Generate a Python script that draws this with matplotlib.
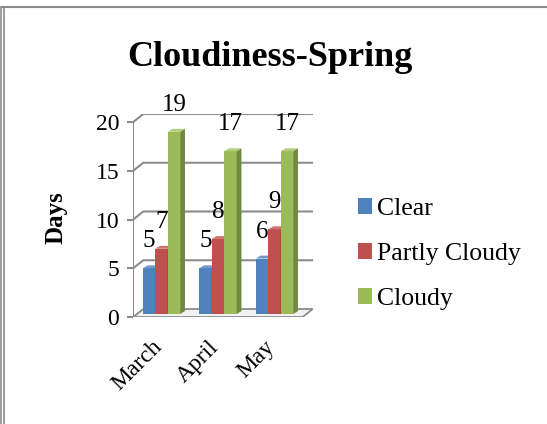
import matplotlib.pyplot as plt
from matplotlib.patches import Polygon, Patch
from matplotlib.lines import Line2D

plt.rcParams['font.family'] = ['Liberation Serif', 'DejaVu Serif']

months = ['March', 'April', 'May']
series = ['Clear', 'Partly Cloudy', 'Cloudy']
clear = [5, 5, 6]
partly = [7, 8, 9]
cloudy = [19, 17, 17]
values = [clear, partly, cloudy]
front_colors = ['#4F81BD', '#C0504D', '#9BBB59']
side_colors = ['#385d8a', '#8c3836', '#71893f']
top_colors = ['#7397c9', '#cf7472', '#b2cc7c']

W, H = 547, 424
fig = plt.figure(figsize=(W / 100, H / 100), dpi=100)

# pseudo-3D depth of the back wall, in data units
DX, DY = 0.177, 0.82
# depth of each bar
BDX, BDY = 0.085, 0.3

x0_px, y0_px = 133.25, 317
ux, uy = 56.5, 9.75
ax = fig.add_axes([x0_px / W, (H - y0_px) / H,
                   ux * (3 + DX) / W, uy * (20 + DY) / H])
ax.set_xlim(0, 3 + DX)
ax.set_ylim(0, 20 + DY)
for s in ax.spines.values():
    s.set_visible(False)

grid_c = '#8c8c8c'
# floor
ax.add_patch(Polygon([(0, 0), (3, 0), (3 + DX, DY), (DX, DY)], closed=True,
                     facecolor='#f2f2f2', edgecolor=grid_c, lw=1.3, zorder=1))
# back wall gridlines
for v in [5, 10, 15, 20]:
    ax.plot([0, DX, 3 + DX], [v, v + DY, v + DY], color=grid_c, lw=1.5, zorder=1)
ax.plot([0, 0], [0, 20], color=grid_c, lw=1.5, zorder=1)

bw = 0.22
for i, m in enumerate(months):
    for j in range(3):
        v = values[j][i]
        xl = i + 0.5 + (j - 1) * bw - bw / 2
        xr = xl + bw
        z = 3 + j * 0.1
        ax.add_patch(Polygon([(xl, 0.3), (xr, 0.3), (xr, v), (xl, v)], closed=True,
                             facecolor=front_colors[j], edgecolor='none', zorder=z))
        ax.add_patch(Polygon([(xr, 0.3), (xr + BDX, 0.3 + BDY), (xr + BDX, v + BDY), (xr, v)],
                             closed=True, facecolor=side_colors[j], edgecolor='none', zorder=z))
        ax.add_patch(Polygon([(xl, v), (xr, v), (xr + BDX, v + BDY), (xl + BDX, v + BDY)],
                             closed=True, facecolor=top_colors[j], edgecolor='none', zorder=z))
        ax.text((xl + xr) / 2, v + 2.75, str(v), ha='center', va='center',
                fontsize=18, zorder=6, clip_on=False)

ax.set_yticks([0, 5, 10, 15, 20])
ax.set_yticklabels(['0', '5', '10', '15', '20'], fontsize=17)
ax.tick_params(axis='y', length=4, width=1.5, color=grid_c, pad=6)
ax.set_xticks([0.32, 1.32, 2.32])
ax.set_xticklabels(months, fontsize=17, rotation=45, ha='right', rotation_mode='anchor')
ax.tick_params(axis='x', length=0, pad=14)

fig.text(56 / W, 1 - 218 / H, 'Days', rotation=90, ha='center', va='center',
         fontsize=18, fontweight='bold')
fig.text(270 / W, 1 - 57 / H, 'Cloudiness-Spring', ha='center', va='center',
         fontsize=26, fontweight='bold')

handles = [Patch(facecolor=c, edgecolor='none') for c in front_colors]
fig.legend(handles, series, loc='center left', bbox_to_anchor=(358 / W, 1 - 254 / H),
           frameon=False, fontsize=18.5, handlelength=0.55, handleheight=0.55,
           handletextpad=0.2, labelspacing=0.9, borderaxespad=0, borderpad=0)

# chart frame
fc = '#8a8a8a'
fig.add_artist(Line2D([2 / W, 1], [1 - 7 / H, 1 - 7 / H], color=fc, lw=1.5))
fig.add_artist(Line2D([1 / W, 1 / W], [0, 1 - 7 / H], color=fc, lw=1.2))
fig.add_artist(Line2D([4 / W, 4 / W], [0, 1 - 7 / H], color=fc, lw=1.2))

fig.savefig('out.png', dpi=100)
